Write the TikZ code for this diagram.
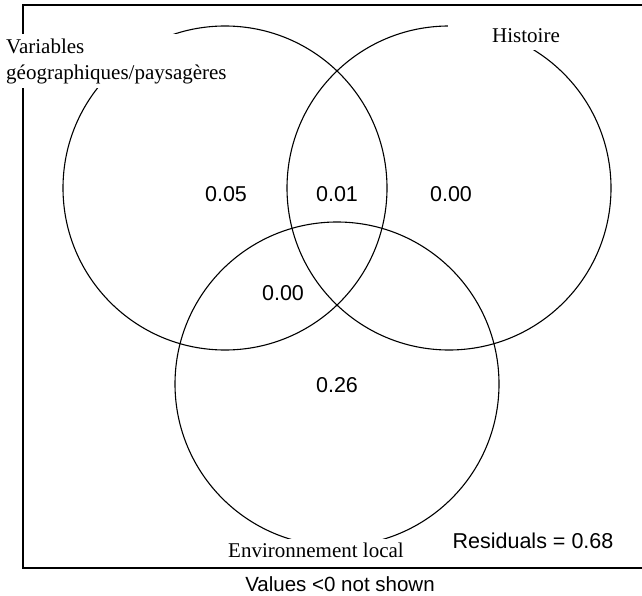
\documentclass[tikz,border=0pt]{standalone}
\usepackage{fontspec}
\setmainfont{Liberation Serif}
\newfontfamily\valfont{Liberation Sans}
\usetikzlibrary{positioning}
\tikzset{
  venn/.style={draw, circle, minimum size=324pt, line width=1.1pt, inner sep=0pt},
  setlabel/.style={fill=white, font=\fontsize{21}{26}\selectfont, inner sep=4pt},
  fraction/.style={font=\valfont\fontsize{21.5}{24}\selectfont, inner sep=0pt},
}
\begin{document}
\begin{tikzpicture}[x=1pt,y=-1pt]
  \useasboundingbox (0,0) rectangle (642,596);

  % Frame (right side runs off the page)
  \draw[line width=1.3pt] (642,5) -- (23,5) -- (23,568) -- (642,568);

  % The three sets
  \node[venn] (geo) at (225,188) {};
  \node[venn] (hist) at (449,188) {};
  \node[venn] (env) at (337,384) {};

  % Fractions
  \node[fraction] (fgeo) at (226,194) {0.05};
  \node[fraction] (fgeohist) at (337,194) {0.01};
  \node[fraction] (fhist) at (451,194) {0.00};
  \node[fraction] (fgeoenv) at (283,293) {0.00};
  \node[fraction] (fenv) at (337,385) {0.26};
  \node[fraction] (resid) at (533,541) {Residuals = 0.68};

  % Set labels
  \node[setlabel, align=left, anchor=west] (geolab) at (2,61) {Variables\\g\'eographiques/paysag\`eres};
  \node[setlabel, minimum width=156pt, minimum height=28pt] (histlab) at (526,36) {Histoire};
  \node[setlabel] (envlab) at (316,550) {Environnement local};

  % Note under the frame
  \node[fraction, font=\valfont\fontsize{20.5}{24}\selectfont] (note) at (340,584) {Values <0 not shown};
\end{tikzpicture}
\end{document}
